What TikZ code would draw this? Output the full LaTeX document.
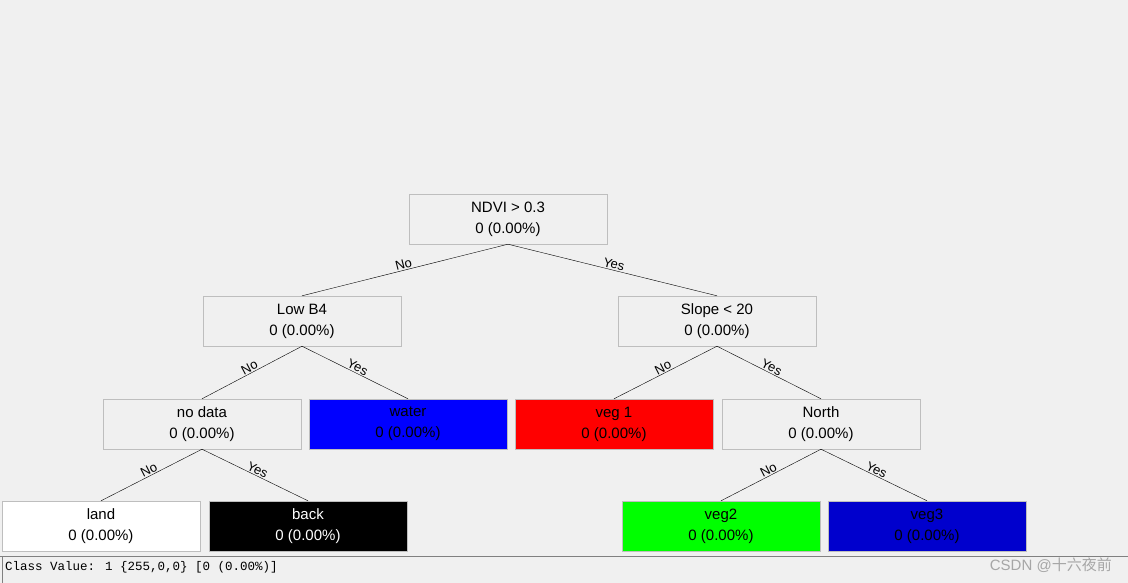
\documentclass[tikz,border=0pt]{standalone}
\usepackage{fontspec}
\setmainfont{Liberation Sans}
\newfontfamily\monofont{Liberation Mono}
\newfontfamily\cjkfont{Noto Sans CJK SC}
\definecolor{panel}{RGB}{240,240,240}
\definecolor{edgegray}{RGB}{190,190,190}
\definecolor{deepblue}{RGB}{0,0,205}
\tikzset{
  treebox/.style={draw=edgegray, fill=panel, minimum width=198pt, minimum height=50pt,
    inner sep=0pt, align=center, font=\fontsize{15}{21}\selectfont},
  branch/.style={sloped, above, inner sep=1pt, font=\fontsize{13}{13}\selectfont}
}
\begin{document}
\begin{tikzpicture}[x=1pt,y=-1pt]
\useasboundingbox[fill=panel] (0,0) rectangle (1128,583);
\node[treebox] (ndvi) at (508,219) {NDVI > 0.3\\0 (0.00\%)};
\node[treebox] (lowb) at (302,321) {Low B4\\0 (0.00\%)};
\node[treebox] (slope) at (717,321) {Slope < 20\\0 (0.00\%)};
\node[treebox] (nodata) at (202,424) {no data\\0 (0.00\%)};
\node[treebox,fill=blue] (water) at (408,424) {water\\0 (0.00\%)};
\node[treebox,fill=red] (vega) at (614,424) {veg 1\\0 (0.00\%)};
\node[treebox] (north) at (821,424) {North\\0 (0.00\%)};
\node[treebox,fill=white] (land) at (101,526) {land\\0 (0.00\%)};
\node[treebox,fill=black,text=white] (back) at (308,526) {back\\0 (0.00\%)};
\node[treebox,fill=green] (vegb) at (721,526) {veg2\\0 (0.00\%)};
\node[treebox,fill=deepblue] (vegc) at (927,526) {veg3\\0 (0.00\%)};
\draw (ndvi.south) -- node[branch] {No} (lowb.north);
\draw (ndvi.south) -- node[branch] {Yes} (slope.north);
\draw (lowb.south) -- node[branch] {No} (nodata.north);
\draw (lowb.south) -- node[branch] {Yes} (water.north);
\draw (slope.south) -- node[branch] {No} (vega.north);
\draw (slope.south) -- node[branch] {Yes} (north.north);
\draw (nodata.south) -- node[branch] {No} (land.north);
\draw (nodata.south) -- node[branch] {Yes} (back.north);
\draw (north.south) -- node[branch] {No} (vegb.north);
\draw (north.south) -- node[branch] {Yes} (vegc.north);
\draw[gray] (0,556) -- (1128,556);
\draw[gray] (2,556) -- (2,583);
\node[anchor=west, inner sep=0pt, font=\monofont\fontsize{12.5}{12.5}\selectfont] (status) at (5,567) {Class Value: 1 \{255,0,0\} [0 (0.00\%)]};
\node[anchor=east, inner sep=0pt, text=gray!70, font=\fontsize{15}{15}\selectfont] (mark) at (1112,565) {CSDN @{\cjkfont 十六夜前}};
\end{tikzpicture}
\end{document}
